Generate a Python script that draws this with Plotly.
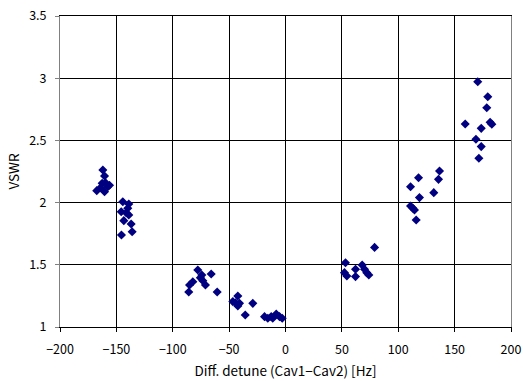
import plotly.graph_objects as go

# Differential detune between the two cavities [Hz] and measured VSWR
detune_hz = [
    -162.0, -160.5, -162.6, -159.6, -156.1, -167.4, -160.5, -157.6, -164.0,
    -144.3, -139.0, -139.9, -145.7, -141.3, -139.0, -143.4, -136.9, -136.0, -145.5,
    -77.8, -74.2, -65.9, -82.2, -85.1, -73.3, -71.0, -75.5, -85.8, -60.6,
    -42.3, -46.7, -44.3, -40.8, -42.3, -29.0, -35.7,
    -18.6, -15.7, -12.7, -8.2, -5.3, -2.9, -11.3,
    53.2, 52.3, 54.4, 62.1, 62.1, 68.0, 70.1, 72.1, 73.9, 79.0,
    136.6, 135.7, 118.0, 110.9, 131.5, 118.8, 110.9, 114.4, 113.0, 115.9,
    170.5, 179.4, 178.5, 159.4, 181.5, 183.0, 173.6, 168.9, 173.6, 171.5,
]
vswr = [
    2.262, 2.214, 2.155, 2.160, 2.140, 2.096, 2.088, 2.128, 2.120,
    2.007, 1.989, 1.954, 1.927, 1.919, 1.900, 1.855, 1.828, 1.766, 1.740,
    1.458, 1.418, 1.426, 1.364, 1.338, 1.372, 1.338, 1.395, 1.281, 1.281,
    1.249, 1.204, 1.195, 1.190, 1.169, 1.190, 1.096,
    1.083, 1.070, 1.083, 1.104, 1.083, 1.070, 1.070,
    1.517, 1.437, 1.410, 1.464, 1.405, 1.498, 1.464, 1.437, 1.418, 1.640,
    2.254, 2.187, 2.200, 2.128, 2.080, 2.040, 1.973, 1.941, 1.954, 1.860,
    2.972, 2.851, 2.763, 2.632, 2.645, 2.630, 2.597, 2.509, 2.450, 2.356,
]

x_ticks = [-200, -150, -100, -50, 0, 50, 100, 150, 200]
x_tick_text = ["\u2212200", "\u2212150", "\u2212100", "\u221250", "0", "50", "100", "150", "200"]
y_ticks = [1, 1.5, 2, 2.5, 3, 3.5]
y_tick_text = ["1", "1.5", "2", "2.5", "3", "3.5"]

family = "Noto Sans CJK JP, DejaVu Sans, sans-serif"
tick_font = dict(family=family, size=12.5, color="#000000")
title_font = dict(family=family, size=13.5, color="#000000")

fig = go.Figure(
    go.Scatter(
        x=detune_hz,
        y=vswr,
        mode="markers",
        marker=dict(symbol="diamond", size=7, color="#000080", line=dict(width=0)),
        showlegend=False,
    )
)

fig.update_layout(
    width=523,
    height=381,
    margin=dict(l=60, r=12, t=16, b=54),
    paper_bgcolor="white",
    plot_bgcolor="white",
    font=tick_font,
    xaxis=dict(
        range=[-200, 200],
        automargin=False,
        tickvals=x_ticks,
        ticktext=x_tick_text,
        tickfont=tick_font,
        showgrid=True,
        gridcolor="#000000",
        gridwidth=1,
        zeroline=False,
        showline=True,
        linecolor="#000000",
        linewidth=1,
        mirror=True,
        ticks="outside",
        ticklen=4,
        tickcolor="#000000",
        ticklabelstandoff=7,
        title=dict(text="Diff. detune (Cav1\u2212Cav2) [Hz]", standoff=9, font=title_font),
    ),
    yaxis=dict(
        range=[1, 3.5],
        automargin=False,
        tickvals=y_ticks,
        ticktext=y_tick_text,
        tickfont=tick_font,
        showgrid=True,
        gridcolor="#000000",
        gridwidth=1,
        zeroline=False,
        showline=True,
        linecolor="#808080",
        linewidth=1,
        mirror=True,
        ticks="outside",
        ticklen=4,
        tickcolor="#808080",
        ticklabelstandoff=6,
        title=dict(text="VSWR", standoff=6, font=title_font),
    ),
)

fig.write_html("out.html")
